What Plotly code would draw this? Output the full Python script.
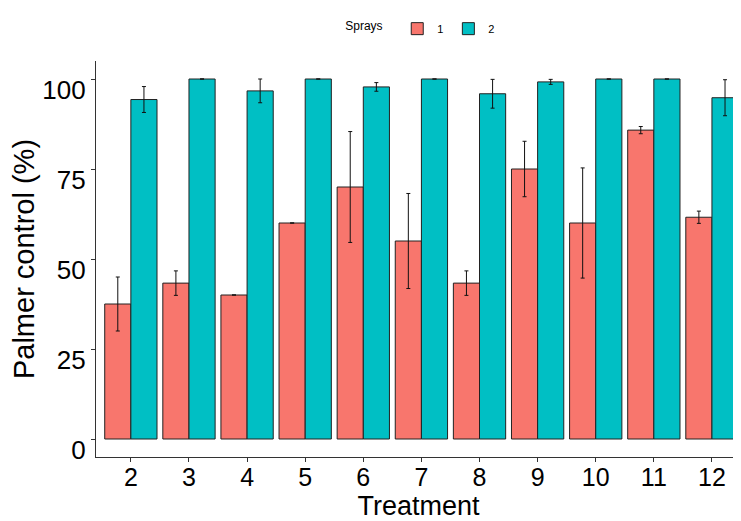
import plotly.graph_objects as go

treatments = ["2", "3", "4", "5", "6", "7", "8", "9", "10", "11", "12"]
spray1 = [37.5, 43.3, 40.0, 60.0, 70.0, 55.0, 43.3, 75.0, 60.0, 85.8, 61.6]
spray1_err = [7.5, 3.4, None, None, 15.4, 13.2, 3.4, 7.7, 15.3, 1.0, 1.7]
spray2 = [94.3, 100.0, 96.7, 100.0, 97.8, 100.0, 95.9, 99.2, 100.0, 100.0, 94.8]
spray2_err = [3.6, None, 3.3, None, 1.2, None, 4.0, 0.7, None, None, 5.0]
yticks = [0, 25, 50, 75, 100]

fig = go.Figure()
for name, vals, errs, color in [("1", spray1, spray1_err, "#F8766D"),
                                ("2", spray2, spray2_err, "#00BFC4")]:
    fig.add_trace(go.Bar(
        x=treatments, y=vals, name=name,
        marker=dict(color=color, line=dict(color="#222222", width=1)),
        error_y=dict(type="data", array=errs, visible=True, color="#111111",
                     thickness=1, width=2),
    ))

fig.update_layout(
    width=733, height=513,
    margin=dict(l=88, r=0, t=53, b=64, autoexpand=False),
    paper_bgcolor="white", plot_bgcolor="white",
    barmode="group", bargap=0.1, bargroupgap=0,
    font=dict(family="Liberation Sans, Arial, sans-serif", color="black"),
    legend=dict(orientation="h", x=0.505, xanchor="center", y=0.988, yanchor="top",
                yref="container", title=dict(text="Sprays  ", font=dict(size=12)),
                font=dict(size=11)),
    showlegend=True,
)
fig.update_xaxes(
    type="category", range=[-0.6, 10.5], automargin=False,
    showline=True, linecolor="#333333", linewidth=1.2,
    ticks="outside", ticklen=4, tickcolor="#333333",
    tickfont=dict(size=25, color="black"), ticklabelstandoff=-6,
    title=dict(text="Treatment", font=dict(size=27), standoff=3),
    showgrid=False, zeroline=False,
)
fig.update_yaxes(
    range=[-5, 105], tickvals=yticks, ticktext=[str(v) for v in yticks],
    automargin=False,
    showline=True, linecolor="#333333", linewidth=1.2,
    ticks="outside", ticklen=4, tickcolor="#333333",
    tickfont=dict(size=26, color="black"), ticklabelshift=11,
    title=dict(text="Palmer control (%)", font=dict(size=29), standoff=8),
    showgrid=False, zeroline=False,
)
fig.write_html("out.html")
